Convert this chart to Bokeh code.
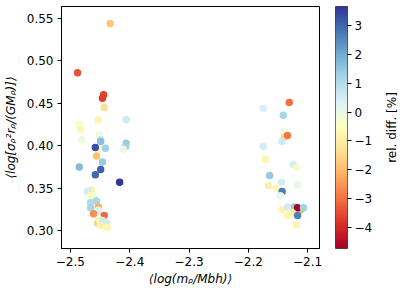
import numpy as np
from bokeh.plotting import figure
from bokeh.models import Range1d, LinearColorMapper, FixedTicker, CustomJSTickFormatter, ColumnDataSource
from bokeh.layouts import row
from bokeh.embed import file_html
from bokeh.resources import INLINE

# ---- data ----
log_m_ratio = [
    -2.433, -2.488, -2.444, -2.446, -2.443, -2.453, -2.485, -2.483, -2.406, -2.481,
    -2.451, -2.449, -2.449, -2.451, -2.458, -2.441, -2.456, -2.446, -2.406, -2.407,
    -2.411, -2.485, -2.449, -2.458, -2.417, -2.465, -2.471, -2.466, -2.460, -2.456,
    -2.466, -2.466, -2.453, -2.453, -2.461, -2.443, -2.454, -2.451, -2.446, -2.439,
    -2.449, -2.438,
    -2.131, -2.175, -2.141, -2.141, -2.139, -2.134, -2.143, -2.175, -2.171, -2.124,
    -2.119, -2.164, -2.117, -2.166, -2.153, -2.144, -2.143, -2.146, -2.143, -2.134,
    -2.122, -2.112, -2.117, -2.107, -2.134, -2.126, -2.117, -2.119,
]
log_sigma_r = [
    0.544, 0.486, 0.460, 0.456, 0.445, 0.430, 0.425, 0.419, 0.431, 0.407,
    0.413, 0.407, 0.405, 0.396, 0.398, 0.397, 0.388, 0.381, 0.403, 0.399,
    0.396, 0.375, 0.372, 0.366, 0.357, 0.348, 0.346, 0.341, 0.340, 0.335,
    0.333, 0.327, 0.328, 0.324, 0.320, 0.318, 0.309, 0.313, 0.312, 0.309,
    0.306, 0.304,
    0.451, 0.444, 0.436, 0.417, 0.410, 0.412, 0.405, 0.399, 0.384, 0.378,
    0.374, 0.365, 0.354, 0.353, 0.350, 0.357, 0.346, 0.341, 0.325, 0.328,
    0.328, 0.324, 0.327, 0.327, 0.318, 0.321, 0.318, 0.307,
]
rel_diff = [
    -1.8, -3.4, -3.6, -3.7, -1.3, -0.8, -0.6, -0.7, 0.6, -0.1,
    -0.1, 0.8, 1.6, -0.5, 3.3, 1.3, -1.9, 1.4, 1.4, 1.3,
    0.0, 1.7, 3.1, 3.0, 3.66, -1.0, 0.5, -0.4, -0.3, 1.2,
    1.1, 1.2, -2.2, 0.3, -2.6, -3.1, -1.6, -0.7, 0.5, 0.6,
    -0.9, -0.8,
    -3.0, 0.4, 1.2, -0.1, -1.6, -2.9, 0.6, 0.5, -0.8, 0.5,
    -0.3, 1.4, 0.0, -0.9, -0.7, 0.5, 2.7, 0.1, -0.8, 0.5,
    1.4, -2.0, -4.73, 1.3, -0.8, -0.9, 2.6, -0.8,
]

x_ticks = [-2.5, -2.4, -2.3, -2.2, -2.1]
y_ticks = [0.30, 0.35, 0.40, 0.45, 0.50, 0.55]
cb_ticks = [-4, -3, -2, -1, 0, 1, 2, 3]

x_label = "\u27e8log(m\u1d68/Mbh)\u27e9"
y_label = "\u27e8log[\u03c3\u1d68\u00b2r\u1d68/(GM\u1d68)]\u27e9"
cb_label = "rel. diff. [%]"

# ---- RdYlBu colormap ----
base = ["#a50026", "#d73027", "#f46d43", "#fdae61", "#fee090", "#ffffbf",
        "#e0f3f8", "#abd9e9", "#74add1", "#4575b4", "#313695"]
rgb = np.array([[int(c[i:i + 2], 16) for i in (1, 3, 5)] for c in base], dtype=float)
pos = np.linspace(0, 1, len(base))
t = np.linspace(0, 1, 256)
interp = np.stack([np.interp(t, pos, rgb[:, k]) for k in range(3)], axis=1)
palette = ["#%02x%02x%02x" % tuple(int(round(v)) for v in c) for c in interp]

low, high = min(rel_diff), max(rel_diff)
mapper = LinearColorMapper(palette=palette, low=low, high=high)

FONT = "DejaVu Sans"
FS = "12px"

src = ColumnDataSource(dict(x=log_m_ratio, y=log_sigma_r, c=rel_diff))

p = figure(frame_width=258, frame_height=242, output_backend="svg", toolbar_location=None,
           tools="", x_range=Range1d(-2.515, -2.080), y_range=Range1d(0.279, 0.564),
           min_border_left=61, min_border_right=16, min_border_top=6, min_border_bottom=41)
p.scatter("x", "y", source=src, size=7.5, line_color=None,
          fill_color={"field": "c", "transform": mapper})

p.xgrid.visible = False
p.ygrid.visible = False
p.outline_line_color = "black"
p.outline_line_width = 1
p.background_fill_color = "white"
p.border_fill_color = "white"

p.xaxis.ticker = FixedTicker(ticks=x_ticks)
p.yaxis.ticker = FixedTicker(ticks=y_ticks)
p.xaxis.formatter = CustomJSTickFormatter(code="return tick.toFixed(1).replace('-', '\u2212');")
p.yaxis.formatter = CustomJSTickFormatter(code="return tick.toFixed(2);")
for ax in (p.xaxis, p.yaxis):
    ax.major_tick_out = 4
    ax.major_tick_in = 0
    ax.minor_tick_out = 0
    ax.minor_tick_in = 0
    ax.axis_line_color = "black"
    ax.major_tick_line_color = "black"
    ax.major_label_text_font = FONT
    ax.major_label_text_font_size = FS
    ax.major_label_text_color = "black"
    ax.axis_label_text_font = FONT
    ax.axis_label_text_font_size = FS
    ax.axis_label_text_font_style = "italic"
    ax.axis_label_text_color = "black"
p.xaxis.axis_label = x_label
p.yaxis.axis_label = y_label
p.xaxis.major_label_standoff = 4
p.xaxis.axis_label_standoff = 3
p.yaxis.major_label_standoff = 4
p.yaxis.axis_label_standoff = 6

# ---- colorbar as a narrow figure ----
cb = figure(frame_width=12, frame_height=242, output_backend="svg", toolbar_location=None,
            tools="", x_range=Range1d(0, 1), y_range=Range1d(low, high),
            x_axis_location=None, y_axis_location="right",
            min_border_left=0, min_border_right=34, min_border_top=6, min_border_bottom=41)
grad = np.linspace(low, high, 256).reshape(-1, 1)
cb.image(image=[grad], x=0, y=low, dw=1, dh=high - low, color_mapper=mapper)
cb.xgrid.visible = False
cb.ygrid.visible = False
cb.outline_line_color = "#444444"
cb.outline_line_width = 1
cb.yaxis.ticker = FixedTicker(ticks=cb_ticks)
cb.yaxis.formatter = CustomJSTickFormatter(code="return tick.toFixed(0).replace('-', '\u2212');")
cb.yaxis.axis_line_color = None
cb.yaxis.major_tick_out = 4
cb.yaxis.major_tick_in = 0
cb.yaxis.minor_tick_out = 0
cb.yaxis.minor_tick_in = 0
cb.yaxis.major_label_text_font = FONT
cb.yaxis.major_label_text_font_size = FS
cb.yaxis.major_label_text_color = "black"
cb.yaxis.major_label_standoff = 3

# ---- colorbar title holder (left axis label reads bottom-to-top) ----
lab = figure(frame_width=1, frame_height=242, output_backend="svg", toolbar_location=None,
             tools="", x_range=Range1d(0, 1), y_range=Range1d(low, high),
             x_axis_location=None, y_axis_location="left",
             min_border_left=0, min_border_right=0, min_border_top=6, min_border_bottom=41)
lab.xgrid.visible = False
lab.ygrid.visible = False
lab.outline_line_color = None
lab.yaxis.ticker = FixedTicker(ticks=[])
lab.yaxis.axis_line_color = None
lab.yaxis.major_tick_out = 0
lab.yaxis.major_tick_in = 0
lab.yaxis.minor_tick_out = 0
lab.yaxis.minor_tick_in = 0
lab.yaxis.major_label_standoff = 0
lab.yaxis.axis_label = cb_label
lab.yaxis.axis_label_standoff = 0
lab.yaxis.axis_label_text_font = FONT
lab.yaxis.axis_label_text_font_size = FS
lab.yaxis.axis_label_text_font_style = "normal"
lab.yaxis.axis_label_text_color = "black"

layout = row(p, cb, lab)
open("out.html", "w").write(file_html(layout, INLINE))
